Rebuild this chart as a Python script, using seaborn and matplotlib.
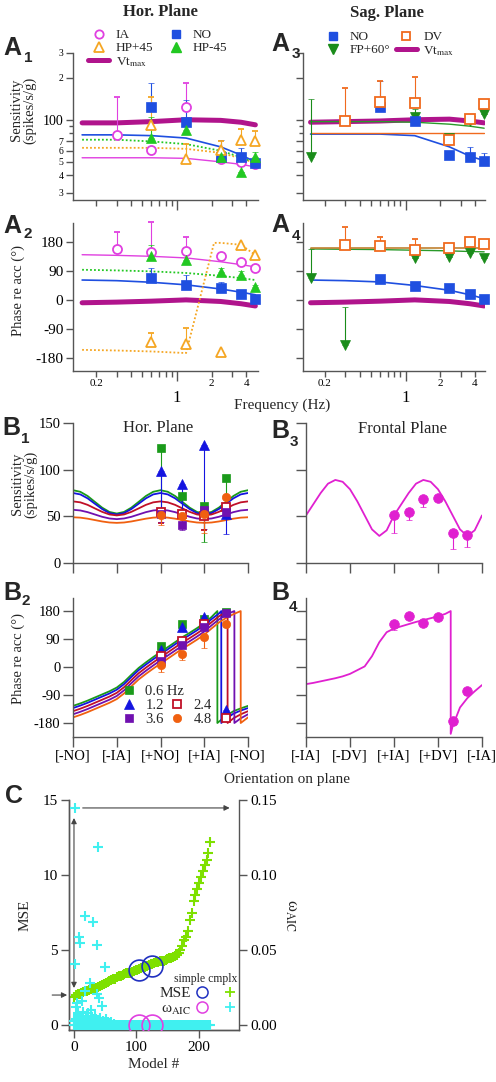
import numpy as np
import matplotlib
matplotlib.use('Agg')
import matplotlib.pyplot as plt
import seaborn as sns
from matplotlib.lines import Line2D
from matplotlib.ticker import FixedLocator, FixedFormatter, NullFormatter

sns.set_theme(style='ticks')
plt.rcParams['font.family'] = ['Liberation Serif', 'DejaVu Serif']
plt.rcParams['mathtext.fontset'] = 'stix'
plt.rcParams['axes.unicode_minus'] = False
plt.rcParams['axes.edgecolor'] = '#555555'
plt.rcParams['xtick.color'] = '#555555'
plt.rcParams['ytick.color'] = '#555555'
plt.rcParams['xtick.labelcolor'] = 'black'
plt.rcParams['ytick.labelcolor'] = 'black'
plt.rcParams['axes.linewidth'] = 1.0

# ---------------- data ----------------
fit_freq = [0.15, 0.3, 0.6, 1.2, 2.4, 3.6, 4.8]

# A1: horizontal plane sensitivity
a1_ia_f = [0.3, 0.6, 1.2, 2.4, 3.6, 4.8]
a1_ia = [78, 61, 124, 52, 50, 48]
a1_ia_err = [68, 0, 60, 4, 0, 0]
a1_no_f = [0.6, 1.2, 2.4, 3.6, 4.8]
a1_no = [124, 97, 54, 54, 49]
a1_no_err = [60, 42, 18, 9, 4]
a1_hp45_f = [0.6, 1.2, 2.4, 3.6, 4.8]
a1_hp45 = [92, 52, 61, 72, 71]
a1_hp45_err = [54, 15, 10, 14, 12]
a1_hm45_f = [0.6, 1.2, 2.4, 3.6, 4.8]
a1_hm45 = [74, 85, 54, 42, 54]
a1_hm45_err = [31, 15, 5, 0, 5]
a1_fit_ia = [53.5, 53.5, 53.5, 53, 50, 48, 46]
a1_fit_no = [78, 78, 77, 74, 64, 56, 50]
a1_fit_hp45 = [63, 63, 63, 62, 58, 53, 49]
a1_fit_hm45 = [72, 72, 70, 67, 60, 54, 49]
a1_vt = [95, 95, 97, 100, 99, 96, 92]

# A2: horizontal plane phase
a2_ia = [159, 150, 153, 137, 119, 100]
a2_ia_err = [53, 94, 44, 0, 0, 0]
a2_no = [69, 47, 37, 19, 3]
a2_no_err = [31, 31, 19, 0, 0]
a2_hp45 = [-131, -137, -162, 172, 141]
a2_hp45_err = [28, 50, 0, 0, 0]
a2_hm45 = [137, 125, 87, 78, 41]
a2_hm45_err = [35, 30, 12, 12, 5]
a2_fit_ia = [141, 139, 136, 131, 119, 110, 103]
a2_fit_no = [62, 60, 55, 47, 34, 24, 16]
a2_fit_hm45 = [94, 92, 89, 84, 75, 68, 62]
a2_fit_hp45_f = [0.15, 0.3, 0.6, 1.2, 2.1, 2.4, 3.6, 4.8]
a2_fit_hp45 = [-156, -158, -161, -166, 178, 178, 172, 140]
a2_vt = [-9, -7, -4, 0, -5, -12, -19]

# A3: sagittal plane sensitivity
a3_no_f = [0.6, 1.2, 2.4, 3.6, 4.8]
a3_no = [124, 98, 56, 54, 51]
a3_no_err = [66, 6, 0, 10, 7]
a3_dv_f = [0.3, 0.6, 1.2, 2.4, 3.6, 4.8]
a3_dv = [98, 134, 132, 72, 102, 130]
a3_dv_err = [72, 56, 71, 0, 0, 0]
a3_fp_f = [0.15, 1.2, 2.4, 3.6, 4.8]
a3_fp = [54, 105, 74, 98, 110]
a3_fp_err = [87, 15, 0, 0, 0]
a3_fit_no = [79, 79, 79, 77, 64, 55, 51]
a3_fit_dv = [81, 81, 81, 81, 81, 81, 81]
a3_fit_fp = [97, 97, 97, 96, 93, 90, 87]
a3_vt = [96, 97, 98, 100, 101, 98, 95]

# A4: sagittal plane phase
a4_dv = [172, 169, 156, 162, 181, 175]
a4_dv_err = [56, 28, 34, 0, 0, 0]
a4_fp_f = [0.15, 0.3, 1.2, 2.4, 3.6, 4.8]
a4_fp = [69, -141, 131, 134, 147, 131]
a4_fp_err = [90, 119, 0, 0, 0, 0]
a4_no = [65, 44, 37, 19, 3]
a4_fit_dv = [162, 162, 162, 162, 162, 162, 162]
a4_fit_fp = [159, 158, 157, 155, 153, 151, 150]
a4_fit_no = [62, 60, 56, 45, 30, 16, 4]
a4_vt = [-9, -7, -4, 0, -5, -12, -19]

# B: orientation tuning
orient = [180, 225, 270, 315]
b_freqs = ['0.6 Hz', '1.2', '2.4', '3.6', '4.8']
b1_sens = {
    '0.6 Hz': [123, 72, 61, 91],
    '1.2': [99, 85, 126, 53],
    '2.4': [55, 53, 50, 60],
    '3.6': [52, 41, 57, 55],
    '4.8': [51, 50, 52, 71],
}
b1_err = {
    '0.6 Hz': [70, 20, 38, 35],
    '1.2': [50, 45, 90, 22],
    '2.4': [12, 10, 15, 12],
    '3.6': [8, 6, 8, 6],
    '4.8': [10, 10, 20, 12],
}
fit_ang = np.arange(0, 361, 15)
b1_fit = {
    '0.6 Hz': [78, 76.3, 71.8, 65.5, 59.3, 54.7, 53, 54.7, 59.3, 65.5, 71.8, 76.3, 78,
               76.3, 71.8, 65.5, 59.3, 54.7, 53, 54.7, 59.3, 65.5, 71.8, 76.3, 78],
    '1.2': [75, 73.5, 69.3, 63.5, 57.8, 53.5, 52, 53.5, 57.8, 63.5, 69.3, 73.5, 75,
            73.5, 69.3, 63.5, 57.8, 53.5, 52, 53.5, 57.8, 63.5, 69.3, 73.5, 75],
    '2.4': [66, 65, 62.3, 58.5, 54.8, 52, 51, 52, 54.8, 58.5, 62.3, 65, 66,
            65, 62.3, 58.5, 54.8, 52, 51, 52, 54.8, 58.5, 62.3, 65, 66],
    '3.6': [57, 56.3, 54.5, 52, 49.5, 47.7, 47, 47.7, 49.5, 52, 54.5, 56.3, 57,
            56.3, 54.5, 52, 49.5, 47.7, 47, 47.7, 49.5, 52, 54.5, 56.3, 57],
    '4.8': [49, 48.6, 47.5, 46, 44.5, 43.4, 43, 43.4, 44.5, 46, 47.5, 48.6, 49,
            48.6, 47.5, 46, 44.5, 43.4, 43, 43.4, 44.5, 46, 47.5, 48.6, 49],
}
b2_phase = {
    '0.6 Hz': [68, 138, 154, 176],
    '1.2': [55, 129, 161, -138],
    '2.4': [35, 84, 138, -164],
    '3.6': [20, 70, 128, 173],
    '4.8': [6, 42, 96, 138],
}
b2_err = {
    '0.6 Hz': [8, 8, 8, 8],
    '1.2': [8, 8, 8, 8],
    '2.4': [10, 10, 10, 10],
    '3.6': [8, 8, 8, 8],
    '4.8': [22, 18, 35, 10],
}
b2_fit_ang = {
    '0.6 Hz': [0, 15, 30, 45, 60, 75, 90, 105, 120, 135, 150, 165, 180, 195, 210, 225, 240, 255, 270, 285,
               297, 297, 300, 315, 330, 345, 360],
    '1.2': [0, 15, 30, 45, 60, 75, 90, 105, 120, 135, 150, 165, 180, 195, 210, 225, 240, 255, 270, 285, 300,
            305, 305, 315, 330, 345, 360],
    '2.4': [0, 15, 30, 45, 60, 75, 90, 105, 120, 135, 150, 165, 180, 195, 210, 225, 240, 255, 270, 285, 300,
            315, 318, 318, 330, 345, 360],
    '3.6': [0, 15, 30, 45, 60, 75, 90, 105, 120, 135, 150, 165, 180, 195, 210, 225, 240, 255, 270, 285, 300,
            315, 330, 332, 332, 345, 360],
    '4.8': [0, 15, 30, 45, 60, 75, 90, 105, 120, 135, 150, 165, 180, 195, 210, 225, 240, 255, 270, 285, 300,
            315, 330, 345, 345, 360],
}
b2_fit = {
    '0.6 Hz': [-125, -117, -108, -98, -88, -78, -66, -48, -25, -3, 15, 32, 48, 64, 80, 96, 110, 125, 141, 161,
               180, -180, -176, -157, -142, -133, -125],
    '1.2': [-132, -124, -115, -105, -95, -85, -73, -55, -32, -10, 8, 25, 41, 57, 73, 89, 103, 118, 134, 154, 172,
            180, -180, -166, -150, -140, -132],
    '2.4': [-142, -134, -125, -115, -105, -95, -83, -65, -42, -20, -2, 15, 31, 47, 63, 79, 93, 108, 124, 144, 163,
            177, 180, -180, -165, -152, -142],
    '3.6': [-152, -144, -135, -125, -115, -105, -93, -75, -52, -30, -12, 5, 21, 37, 53, 69, 83, 98, 114, 134, 153,
            168, 179, 180, -180, -165, -152],
    '4.8': [-162, -154, -145, -135, -125, -115, -103, -85, -62, -40, -22, -5, 11, 27, 43, 59, 73, 88, 104, 124, 143,
            158, 170, 180, -180, -162],
}

# B3/B4: frontal plane
fr_orient = [180, 210, 240, 270, 300, 330]
b3_sens = [51, 55, 69, 70, 32, 30]
b3_err = [19, 9, 9, 3, 17, 13]
b3_fit = [51, 63, 75, 85, 89, 87, 79, 66, 51, 36, 29, 35, 51, 63, 75, 85, 89, 87, 79, 66, 51, 36, 29, 35, 51]
b4_phase = [138, 164, 141, 161, -172, -77]
b4_err = [18, 5, 5, 5, 15, 12]
b4_fit_ang = [0, 15, 30, 45, 60, 75, 90, 105, 120, 135, 150, 165, 180, 195, 210, 225, 240, 255, 270, 285,
              296, 296, 300, 315, 330, 345, 360]
b4_fit = [-55, -51, -46, -41, -36, -30, -22, -10, 2, 35, 80, 112, 124, 131, 138, 145, 151, 157, 163, 171,
          180, -215, -190, -130, -100, -78, -58]

# C: model comparison
c_model = np.arange(0, 222, 3)
c_mse = [1.9, 2.0, 2.05, 2.1, 2.15, 2.2, 2.25, 2.3, 2.35, 2.4,
         2.45, 2.5, 2.5, 2.55, 2.6, 2.65, 2.75, 2.8, 2.9, 2.95,
         3.0, 3.05, 3.1, 3.2, 3.25, 3.3, 3.35, 3.4, 3.45, 3.5,
         3.5, 3.55, 3.6, 3.65, 3.7, 3.75, 3.8, 3.85, 3.9, 3.95,
         4.0, 4.05, 4.1, 4.15, 4.2, 4.2, 4.25, 4.3, 4.3, 4.35,
         4.4, 4.45, 4.5, 4.55, 4.6, 4.7, 4.8, 5.0, 5.3, 5.7,
         5.9, 6.3, 7.0, 7.5, 8.3, 8.7, 9.1, 9.5, 9.9, 10.3,
         10.7, 11.0, 11.5, 12.2]
c_aic_band = np.zeros(len(c_model))
c_aic_model = [1, 39, 18, 31, 8, 10, 37, 2, 50, 26, 37, 18, 5, 13, 40, 45, 3, 7, 12, 15,
               20, 23, 28, 30, 34, 42, 47, 52, 55, 60, 65, 4, 9, 17, 25, 33, 44, 0, 6, 11,
               14, 21, 27, 36]
c_aic = [0.145, 0.119, 0.073, 0.069, 0.0585, 0.055, 0.0535, 0.041, 0.0385, 0.028,
         0.021, 0.023, 0.0145, 0.016, 0.018, 0.013, 0.012, 0.008, 0.006, 0.009,
         0.005, 0.008, 0.010, 0.004, 0.006, 0.005, 0.003, 0.004, 0.002, 0.002,
         0.001, 0.004, 0.003, 0.003, 0.002, 0.002, 0.002, 0.003, 0.007, 0.002,
         0.005, 0.003, 0.006, 0.004]
simple_model = [105, 125]
simple_mse = [3.7, 3.95]
simple_aic = [0.0, 0.0]

# ---------------- colours ----------------
C_IA = '#e040e0'
C_NO = '#1f4fe0'
C_HP = '#f5a623'
C_HM = '#22c822'
C_VT = '#b0148c'
C_DV = '#f06a1e'
C_FP = '#1a8c1a'
B_COL = {'0.6 Hz': '#1a9a1a', '1.2': '#1414e0', '2.4': '#c01028', '3.6': '#7010b0', '4.8': '#f06010'}
B_MRK = {'0.6 Hz': 's', '1.2': '^', '2.4': 's', '3.6': 's', '4.8': 'o'}
C_FR = '#e020d0'

W, H = 496, 1082
fig = plt.figure(figsize=(W / 100, H / 100), dpi=100)


def box(l, t, r, b):
    return [l / W, 1 - b / H, (r - l) / W, (b - t) / H]


def fpx(x, y):
    return x / W, 1 - y / H


def pts(ax, x, y, lo, hi, color, marker, open_=False, ms=6.5):
    ax.errorbar(x, y, yerr=[lo, hi], fmt=marker, ms=ms, mfc='white' if open_ else color,
                mec=color, mew=1.3 if open_ else 0.5, ecolor=color, elinewidth=0.8,
                capsize=2.5, capthick=0.8, zorder=4, clip_on=False)


def up(ax, x, y, err, color, marker, open_=False, ms=6.5):
    pts(ax, x, y, np.zeros(len(err)), err, color, marker, open_, ms)


def fit(ax, x, y, color, lw=1.0, ls='-', z=2):
    sns.lineplot(x=x, y=y, ax=ax, color=color, linewidth=lw, linestyle=ls,
                 estimator=None, sort=False, zorder=z)


def freq_axes(rect, xlim, labels):
    ax = fig.add_axes(box(*rect))
    ax.set_xscale('log')
    ax.set_xlim(*xlim)
    ax.xaxis.set_major_locator(FixedLocator([1]))
    ax.xaxis.set_minor_locator(FixedLocator([0.2, 0.3, 0.4, 0.5, 0.6, 0.7, 0.8, 0.9, 2, 3, 4]))
    if labels:
        ax.xaxis.set_major_formatter(FixedFormatter(['1']))
        ax.xaxis.set_minor_formatter(FixedFormatter(['0.2', '', '', '', '', '', '', '', '2', '', '4']))
    else:
        ax.xaxis.set_major_formatter(NullFormatter())
        ax.xaxis.set_minor_formatter(NullFormatter())
    ax.tick_params(axis='x', which='major', length=7, width=1, labelsize=12, pad=7)
    ax.tick_params(axis='x', which='minor', length=4, width=1, labelsize=8, pad=2)
    ax.tick_params(axis='y', which='both', width=1)
    sns.despine(ax=ax)
    ax.set_xlabel('')
    ax.set_ylabel('')
    return ax


def log_sens(ax, labels):
    ax.set_yscale('log')
    ax.set_ylim(26.7, 300)
    ax.yaxis.set_major_locator(FixedLocator([30, 40, 50, 60, 70, 100, 200, 300]))
    ax.yaxis.set_minor_locator(FixedLocator([80, 90]))
    ax.yaxis.set_minor_formatter(NullFormatter())
    ax.tick_params(axis='y', which='major', length=5, labelsize=7, pad=2)
    ax.tick_params(axis='y', which='minor', length=3)
    if labels:
        ax.yaxis.set_major_formatter(FixedFormatter(['3', '4', '5', '6', '7', '100', '2', '3']))
        ticks = ax.yaxis.get_major_ticks()
        ticks[5].label1.set_fontsize(10)
    else:
        ax.yaxis.set_major_formatter(NullFormatter())


def phase_y(ax, labels, ylim):
    ax.set_ylim(*ylim)
    ax.set_yticks([-180, -90, 0, 90, 180])
    ax.tick_params(axis='y', length=5, labelsize=11, pad=2)
    if not labels:
        ax.set_yticklabels([])


# ---------------- A1 ----------------
a1 = freq_axes((73, 53, 258, 200), (0.125, 5.06), False)
log_sens(a1, True)
fit(a1, fit_freq, a1_vt, C_VT, lw=3.6, z=1)
fit(a1, fit_freq, a1_fit_ia, C_IA)
fit(a1, fit_freq, a1_fit_no, C_NO, lw=1.2)
fit(a1, fit_freq, a1_fit_hp45, C_HP, lw=1.3, ls=(0, (1, 1.2)))
fit(a1, fit_freq, a1_fit_hm45, C_HM, lw=1.3, ls=(0, (1, 1.2)))
up(a1, a1_ia_f, a1_ia, a1_ia_err, C_IA, 'o', True)
up(a1, a1_no_f, a1_no, a1_no_err, C_NO, 's')
up(a1, a1_hp45_f, a1_hp45, a1_hp45_err, C_HP, '^', True, 7)
up(a1, a1_hm45_f, a1_hm45, a1_hm45_err, C_HM, '^', False, 7.5)

h_ia = Line2D([], [], ls='none', marker='o', mfc='white', mec=C_IA, mew=1.3, ms=6)
h_no = Line2D([], [], ls='none', marker='s', color=C_NO, ms=6)
h_hp = Line2D([], [], ls='none', marker='^', mfc='white', mec=C_HP, mew=1.3, ms=7)
h_hm = Line2D([], [], ls='none', marker='^', color=C_HM, ms=7.5)
h_vt = Line2D([], [], color=C_VT, lw=3.6)
a1.legend(handles=[h_ia, h_hp, h_vt, h_no, h_hm],
          labels=['IA', 'HP+45', r'Vt$_{\rm max}$', 'NO', 'HP-45'],
          ncol=2, frameon=False, fontsize=9.5, loc='upper left',
          bbox_to_anchor=fpx(88, 29), bbox_transform=fig.transFigure,
          handlelength=1.6, handletextpad=0.5, columnspacing=0.9, labelspacing=0.05,
          borderaxespad=0, borderpad=0)

# ---------------- A2 ----------------
a2 = freq_axes((73, 223, 258, 371), (0.125, 5.06), True)
phase_y(a2, True, (-222, 240))
fit(a2, fit_freq, a2_vt, C_VT, lw=3.6, z=1)
fit(a2, fit_freq, a2_fit_ia, C_IA)
fit(a2, fit_freq, a2_fit_no, C_NO, lw=1.2)
fit(a2, fit_freq, a2_fit_hm45, C_HM, lw=1.3, ls=(0, (1, 1.2)))
fit(a2, a2_fit_hp45_f, a2_fit_hp45, C_HP, lw=1.3, ls=(0, (1, 1.2)))
up(a2, a1_ia_f, a2_ia, a2_ia_err, C_IA, 'o', True)
up(a2, a1_no_f, a2_no, a2_no_err, C_NO, 's')
up(a2, a1_hp45_f, a2_hp45, a2_hp45_err, C_HP, '^', True, 7)
up(a2, a1_hm45_f, a2_hm45, a2_hm45_err, C_HM, '^', False, 7.5)

# ---------------- A3 ----------------
a3 = freq_axes((303, 53, 485, 200), (0.129, 4.88), False)
log_sens(a3, False)
fit(a3, fit_freq, a3_vt, C_VT, lw=3.6, z=1)
fit(a3, fit_freq, a3_fit_no, C_NO, lw=1.2)
fit(a3, fit_freq, a3_fit_dv, C_DV, lw=1.0)
fit(a3, fit_freq, a3_fit_fp, '#2a9a2a', lw=1.0)
up(a3, a3_fp_f, a3_fp, a3_fp_err, C_FP, 'v', False, 7.5)
up(a3, a3_no_f, a3_no, a3_no_err, C_NO, 's')
up(a3, a3_dv_f, a3_dv, a3_dv_err, C_DV, 's', True, 6.5)

h_dv = Line2D([], [], ls='none', marker='s', mfc='white', mec=C_DV, mew=1.3, ms=6)
h_fp = Line2D([], [], ls='none', marker='v', color=C_FP, ms=7.5)
a3.legend(handles=[h_no, h_fp, h_dv, h_vt],
          labels=['NO', 'FP+60°', 'DV', r'Vt$_{\rm max}$'],
          ncol=2, frameon=False, fontsize=9.5, loc='upper left',
          bbox_to_anchor=fpx(322, 31), bbox_transform=fig.transFigure,
          handlelength=1.6, handletextpad=0.5, columnspacing=0.4, labelspacing=0.05,
          borderaxespad=0, borderpad=0)

# ---------------- A4 ----------------
a4 = freq_axes((303, 223, 485, 371), (0.129, 4.88), True)
phase_y(a4, False, (-222, 240))
fit(a4, fit_freq, a4_vt, C_VT, lw=3.6, z=1)
fit(a4, fit_freq, a4_fit_no, C_NO, lw=1.2)
fit(a4, fit_freq, a4_fit_fp, '#2a9a2a', lw=1.0)
fit(a4, fit_freq, a4_fit_dv, '#c08030', lw=1.2)
up(a4, a3_no_f, a4_no, np.zeros(5), C_NO, 's')
up(a4, a4_fp_f, a4_fp, a4_fp_err, C_FP, 'v', False, 7.5)
up(a4, a3_dv_f, a4_dv, a4_dv_err, C_DV, 's', True, 6.5)

fig.text(*fpx(282, 405), 'Frequency (Hz)', ha='center', va='center', fontsize=11)


# ---------------- B panels ----------------
def orient_axes(rect, ylim, yticks, ylabels, xlabels):
    ax = fig.add_axes(box(*rect))
    ax.set_xlim(0, 360)
    ax.set_ylim(*ylim)
    ax.set_xticks([0, 90, 180, 270, 360])
    ax.set_yticks(yticks)
    ax.tick_params(length=7, width=1, labelsize=10.5, pad=2)
    if xlabels:
        ax.set_xticklabels(xlabels)
    else:
        ax.set_xticklabels([])
    if not ylabels:
        ax.set_yticklabels([])
    sns.despine(ax=ax)
    return ax


b1 = orient_axes((73, 423, 248, 563), (0, 150), [0, 50, 100, 150], True, None)
for k in b_freqs:
    fit(b1, fit_ang, b1_fit[k], B_COL[k], lw=1.3)
for k in b_freqs:
    pts(b1, orient, b1_sens[k], b1_err[k], np.zeros(4), B_COL[k], B_MRK[k],
        open_=(k == '2.4'), ms=7 if B_MRK[k] == '^' else 6)
fig.text(*fpx(158, 428), 'Hor. Plane', ha='center', va='center', fontsize=12)

b2 = orient_axes((73, 598, 248, 737), (-225, 222), [-180, -90, 0, 90, 180], True,
                 ['[-NO]', '[-IA]', '[+NO]', '[+IA]', '[-NO]'])
for k in b_freqs:
    fit(b2, b2_fit_ang[k], b2_fit[k], B_COL[k], lw=1.3)
for k in b_freqs:
    pts(b2, orient, b2_phase[k], b2_err[k], np.zeros(4), B_COL[k], B_MRK[k],
        open_=(k == '2.4'), ms=7 if B_MRK[k] == '^' else 6)

bh = {k: Line2D([], [], ls='none', marker=B_MRK[k], ms=7 if B_MRK[k] == '^' else 6,
                mfc='white' if k == '2.4' else B_COL[k], mec=B_COL[k], mew=1.3 if k == '2.4' else 0.5)
      for k in b_freqs}
leg1 = b2.legend(handles=[bh['0.6 Hz'], bh['1.2'], bh['3.6']], labels=['0.6 Hz', '1.2', '3.6'],
                 frameon=False, fontsize=10.5, loc='upper left', bbox_to_anchor=fpx(122, 685),
                 bbox_transform=fig.transFigure, handlelength=1.0, handletextpad=0.6,
                 labelspacing=0.05, borderaxespad=0, borderpad=0)
b2.add_artist(leg1)
b2.legend(handles=[bh['2.4'], bh['4.8']], labels=['2.4', '4.8'],
          frameon=False, fontsize=10.5, loc='upper left', bbox_to_anchor=fpx(170, 699),
          bbox_transform=fig.transFigure, handlelength=1.0, handletextpad=0.6,
          labelspacing=0.05, borderaxespad=0, borderpad=0)

b3 = orient_axes((306, 423, 482, 563), (0, 150), [0, 50, 100, 150], False, None)
fit(b3, fit_ang, b3_fit, C_FR, lw=1.3)
pts(b3, fr_orient, b3_sens, b3_err, np.zeros(6), C_FR, 'o', ms=7)
fig.text(*fpx(402, 429), 'Frontal Plane', ha='center', va='center', fontsize=12)

b4 = orient_axes((306, 598, 482, 737), (-225, 222), [-180, -90, 0, 90, 180], False,
                 ['[-IA]', '[-DV]', '[+IA]', '[+DV]', '[-IA]'])
fit(b4, b4_fit_ang, b4_fit, C_FR, lw=1.3)
pts(b4, fr_orient, b4_phase, b4_err, np.zeros(6), C_FR, 'o', ms=7)

fig.text(*fpx(287, 779), 'Orientation on plane', ha='center', va='center', fontsize=11)

# ---------------- C ----------------
c = fig.add_axes(box(69, 800, 239, 1030))
c.set_xlim(-8, 265)
c.set_ylim(-0.33, 15)
c2 = c.twinx()
c2.set_ylim(-0.0033, 0.15)
sns.scatterplot(x=c_model, y=c_mse, ax=c, marker='+', s=60, color='#7ee000', linewidth=1.5, zorder=3)
sns.scatterplot(x=c_model, y=c_aic_band, ax=c2, marker='+', s=60, color='#40f0f0', linewidth=1.5, zorder=3)
sns.scatterplot(x=c_aic_model, y=c_aic, ax=c2, marker='+', s=60, color='#40f0f0', linewidth=1.5, zorder=3)
c.plot(simple_model, simple_mse, ls='none', marker='o', ms=15, mfc='none', mec='#2030c0', mew=1.2, zorder=5)
c2.plot(simple_model, simple_aic, ls='none', marker='o', ms=15, mfc='none', mec='#e040e0', mew=1.2, zorder=5)
c.set_xticks([0, 100, 200])
c.set_yticks([0, 5, 10, 15])
c2.set_yticks([0, 0.05, 0.10, 0.15])
c2.set_yticklabels(['0.00', '0.05', '0.10', '0.15'])
c.tick_params(length=6, width=1, labelsize=11, pad=2)
c2.tick_params(length=6, width=1, labelsize=11, pad=2)
for a in (c, c2):
    a.spines['top'].set_visible(False)
    a.set_xlabel('')
    a.set_ylabel('')
c.spines['right'].set_visible(False)
c.set_xlabel('Model #', fontsize=11, labelpad=3)
c.set_ylabel('MSE', fontsize=11, labelpad=8)
c2.set_ylabel('ω$_{\\rm AIC}$', fontsize=12, rotation=270, labelpad=16)

arrow = dict(arrowstyle='-|>', color='#444444', lw=0.8, mutation_scale=8, shrinkA=0, shrinkB=0)
c.annotate('', xy=(250, 14.47), xytext=(14, 14.47), arrowprops=arrow)
c.annotate('', xy=(0, 2.47), xytext=(0, 13.8),
           arrowprops=dict(arrowstyle='<|-|>', color='#444444', lw=0.8, mutation_scale=8, shrinkA=0, shrinkB=0))
c.annotate('', xy=(-11, 2.0), xytext=(-35, 2.0), arrowprops=arrow, annotation_clip=False)

hc1 = Line2D([], [], ls='none', marker='o', ms=8, mfc='none', mec='#2030c0', mew=1.1)
hc2 = Line2D([], [], ls='none', marker='o', ms=8, mfc='none', mec='#e040e0', mew=1.1)
hc3 = Line2D([], [], ls='none', marker='+', ms=7, color='#7ee000', mew=1.3)
hc4 = Line2D([], [], ls='none', marker='+', ms=7, color='#40f0f0', mew=1.3)
leg = c.legend(handles=[hc1, hc2, hc3, hc4], labels=['MSE', 'ω$_{\\rm AIC}$', '', ''],
               ncol=2, markerfirst=False, frameon=False, fontsize=11, title='simple cmplx',
               title_fontsize=8.5, loc='upper left', bbox_to_anchor=fpx(160, 973),
               bbox_transform=fig.transFigure, handlelength=1.0, handletextpad=0.2,
               columnspacing=0.6, labelspacing=0.1, borderaxespad=0, borderpad=0,
               alignment='right')

# ---------------- labels ----------------
fig.text(*fpx(23, 110), 'Sensitivity\n(spikes/s/g)', rotation=90, ha='center', va='center',
         fontsize=10.5, linespacing=1.0)
fig.text(*fpx(18, 291), 'Phase re acc (°)', rotation=90, ha='center', va='center', fontsize=10.5)
fig.text(*fpx(24, 484), 'Sensitivity\n(spikes/s/g)', rotation=90, ha='center', va='center',
         fontsize=10.5, linespacing=1.0)
fig.text(*fpx(18, 659), 'Phase re acc (°)', rotation=90, ha='center', va='center', fontsize=10.5)

fig.text(*fpx(160, 12), 'Hor. Plane', ha='center', va='center', fontsize=12, fontweight='bold')
fig.text(*fpx(387, 13), 'Sag. Plane', ha='center', va='center', fontsize=12, fontweight='bold')


def panel(x, y, letter, sub=None, dx=21, dy=7):
    fig.text(*fpx(x, y), letter, fontsize=18, fontweight='bold', family='Liberation Sans', va='baseline')
    if sub:
        fig.text(*fpx(x + dx, y + dy), sub, fontsize=11, fontweight='bold', family='Liberation Sans',
                 va='baseline')


panel(3, 55, 'A', '1')
panel(3, 233, 'A', '2', dy=5)
panel(271, 51, 'A', '3', dy=7)
panel(271, 232, 'A', '4', dy=8)
panel(2, 435, 'B', '1', dx=19, dy=8)
panel(3, 600, 'B', '2', dx=19, dy=5)
panel(271, 438, 'B', '3', dx=19, dy=8)
panel(271, 600, 'B', '4', dx=18, dy=11)
panel(5, 803, 'C')

fig.savefig('out.png', dpi=100)
